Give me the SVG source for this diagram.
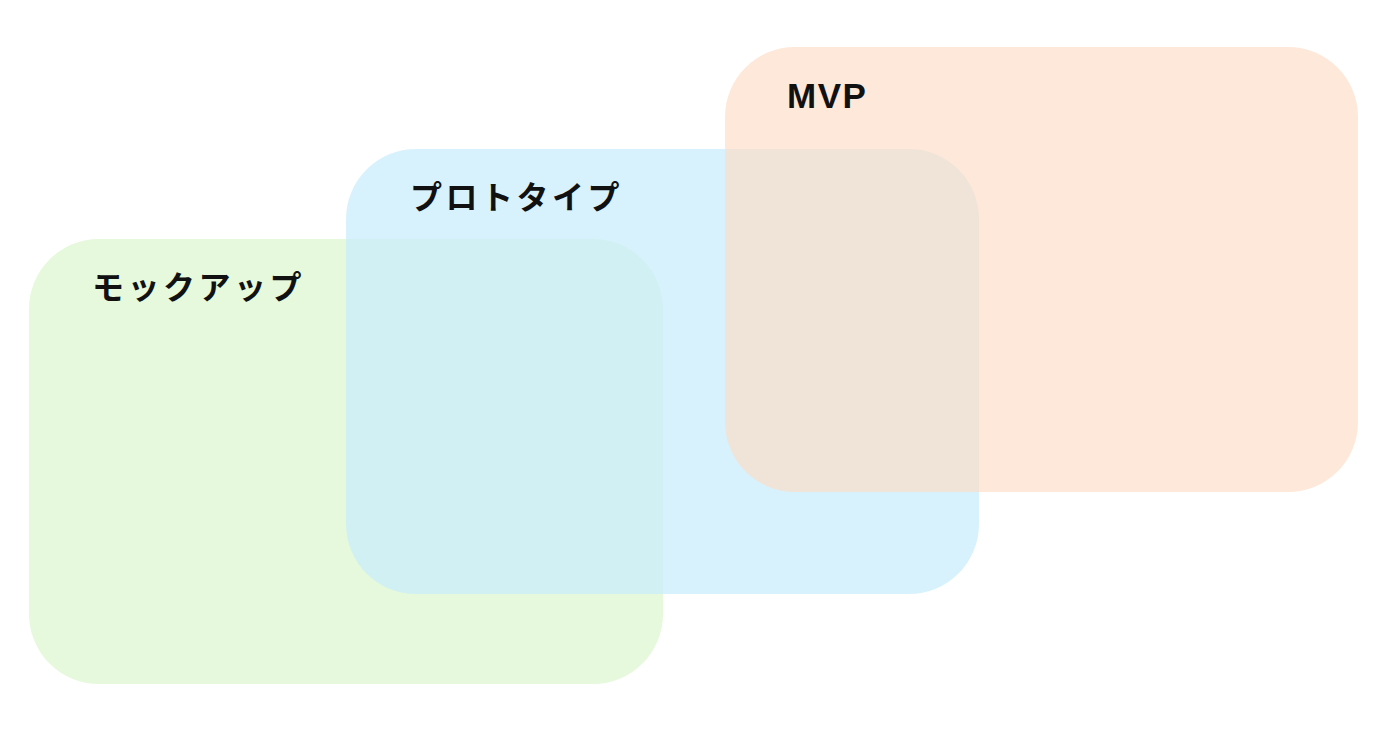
<svg xmlns="http://www.w3.org/2000/svg" width="1400" height="733" viewBox="0 0 1400 733">
<style>
.box{stroke:none}
.jp{font-family:"Noto Sans CJK JP","Noto Sans",sans-serif;font-weight:bold;font-size:32px;letter-spacing:3.5px;fill:#111}
.en{font-family:"Liberation Sans",Arial,sans-serif;font-weight:bold;font-size:35px;letter-spacing:1.5px;fill:#111}
</style>
<rect width="1400" height="733" fill="#ffffff"/>
<g id="mockup">
<rect class="box" x="29" y="239" width="634" height="445" rx="70" ry="70" fill="#e6f9dc"/>
<text class="jp" x="92" y="299">モックアップ</text>
</g>
<g id="prototype">
<rect class="box" x="346" y="149" width="633" height="445" rx="70" ry="70" fill="#c7ecfc" fill-opacity="0.7"/>
<text class="jp" x="410" y="209">プロトタイプ</text>
</g>
<g id="mvp">
<rect class="box" x="725" y="47" width="633" height="445" rx="70" ry="70" fill="#fedcc6" fill-opacity="0.65"/>
<text class="en" x="787" y="108">MVP</text>
</g>
<g id="connectors"/>
</svg>
